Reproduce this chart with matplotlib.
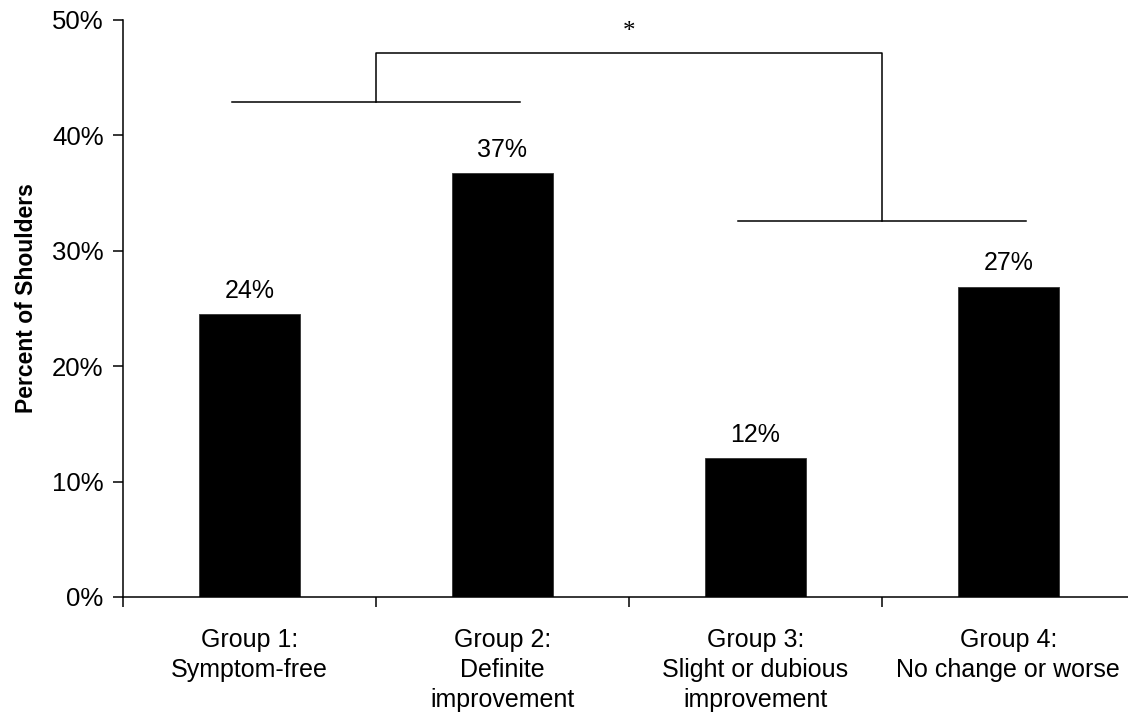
import matplotlib.pyplot as plt
import matplotlib.ticker as mticker
import numpy as np

plt.rcParams['font.family'] = ['Liberation Sans', 'DejaVu Sans']

# Data
groups = ['Group 1:\nSymptom-free',
          'Group 2:\nDefinite\nimprovement',
          'Group 3:\nSlight or dubious\nimprovement',
          'Group 4:\nNo change or worse']
percent = [24.5, 36.7, 12.0, 26.9]
labels = ['24%', '37%', '12%', '27%']

fig = plt.figure(figsize=(11.28, 7.14), dpi=100)
ax = fig.add_axes([0.109, 0.1639, 0.897, 0.8081])

x = np.arange(len(groups))
ax.bar(x, percent, width=0.4, color='black', edgecolor='#333333', linewidth=0.6)

for xi, v, lab in zip(x, percent, labels):
    ax.annotate(lab, (xi, v), xytext=(0, 8), textcoords='offset points',
                ha='center', va='bottom', fontsize=18)

ax.set_xlim(-0.5, 3.5)
ax.set_ylim(0, 50)
ax.yaxis.set_major_locator(mticker.MultipleLocator(10))
ax.yaxis.set_major_formatter(mticker.FuncFormatter(lambda v, p: f'{v:.0f}%'))

# boundary ticks (major) and group labels (minor)
ax.set_xticks([-0.5, 0.5, 1.5, 2.5])
ax.set_xticklabels([])
ax.set_xticks(x, minor=True)
ax.set_xticklabels(groups, minor=True, fontsize=18, linespacing=1.33)
ax.tick_params(axis='x', which='minor', length=0, pad=22)
ax.tick_params(axis='x', which='major', length=7, width=1.1, direction='out')
ax.tick_params(axis='y', length=7, width=1.1, direction='out', labelsize=18.5, pad=7)

for s in ['top', 'right']:
    ax.spines[s].set_visible(False)
for s in ['left', 'bottom']:
    ax.spines[s].set_linewidth(1.1)

ax.set_ylabel('Percent of Shoulders', fontsize=16.5, fontweight='bold')
ax.yaxis.set_label_coords(-0.084, 0.518)

# significance bracket
lw = 1.1
ax.plot([-0.07, 1.07], [42.9, 42.9], color='black', lw=lw)
ax.plot([1.93, 3.07], [32.6, 32.6], color='black', lw=lw)
ax.plot([0.5, 0.5, 2.5, 2.5], [42.9, 47.1, 47.1, 32.6], color='black', lw=lw)
ax.text(1.5, 48.0, '*', ha='center', va='bottom', fontsize=18,
        family='Liberation Serif')

fig.savefig('out.png', dpi=100)
